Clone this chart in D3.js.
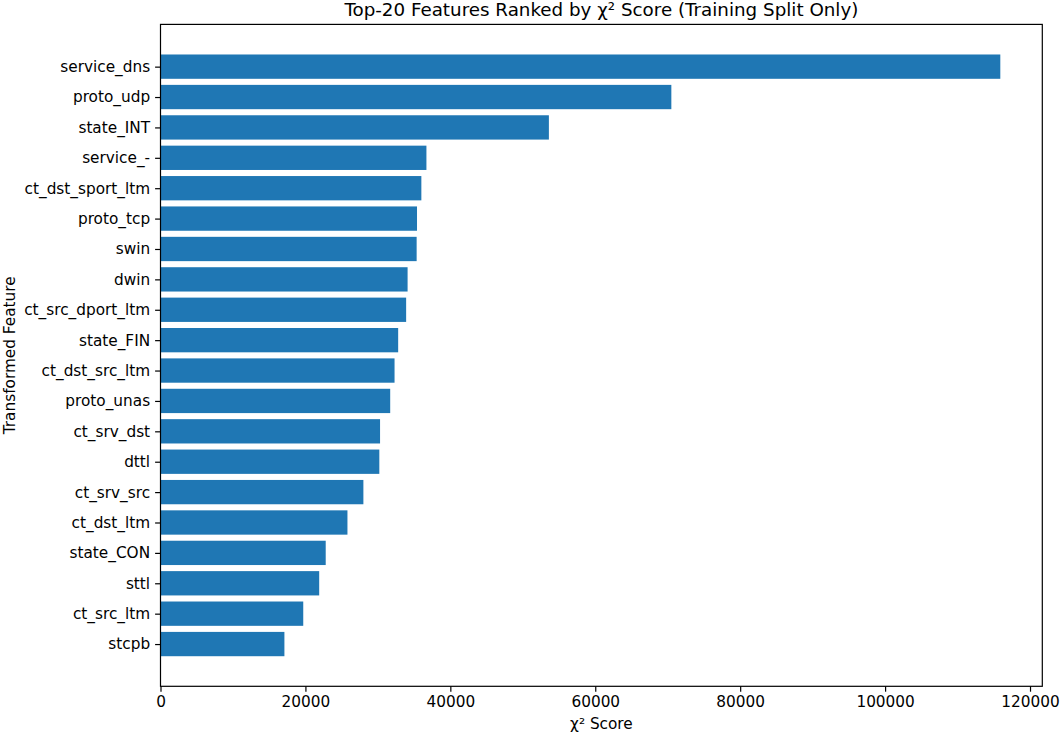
<!DOCTYPE html>
<html>
<head>
<meta charset="utf-8">
<script src="https://cdn.jsdelivr.net/npm/d3@7"></script>
<style>
  body { margin: 0; background: #fff; }
  svg text { font-family: "DejaVu Sans", sans-serif; fill: #000; }
</style>
</head>
<body>
<div id="chart"></div>
<script>
// features, top to bottom
var features = ["service_dns", "proto_udp", "state_INT", "service_-", "ct_dst_sport_ltm",
  "proto_tcp", "swin", "dwin", "ct_src_dport_ltm", "state_FIN", "ct_dst_src_ltm",
  "proto_unas", "ct_srv_dst", "dttl", "ct_srv_src", "ct_dst_ltm", "state_CON",
  "sttl", "ct_src_ltm", "stcpb"];

var scores = [115900, 70500, 53600, 36700, 36000, 35400, 35350, 34100, 33900, 32800,
  32300, 31700, 30300, 30200, 28000, 25800, 22800, 21900, 19700, 17100];

var xTicks = [0, 20000, 40000, 60000, 80000, 100000, 120000];

var title = "Top-20 Features Ranked by χ² Score (Training Split Only)";

// set the dimensions and margins of the graph
var W = 1062, H = 739;
var margin = {top: 24.4, right: 19.7, bottom: 52.7, left: 160.5},
    width = W - margin.left - margin.right,
    height = H - margin.top - margin.bottom;

var svg = d3.select("#chart").append("svg")
    .attr("width", W)
    .attr("height", H);

var g = svg.append("g")
    .attr("transform", "translate(" + margin.left + "," + margin.top + ")");

// matplotlib-like limits: 5% margin
var xmax = d3.max(scores) * 1.05;
var x = d3.scaleLinear().domain([0, xmax]).range([0, width]);

var barH = 0.8;
var ypad = (features.length - 1 + barH) * 0.05;
var y = d3.scaleLinear()
    .domain([-barH / 2 - ypad, features.length - 1 + barH / 2 + ypad])
    .range([0, height]);

// bars
g.selectAll("rect.bar")
    .data(scores)
    .enter().append("rect")
    .attr("class", "bar")
    .attr("x", x(0))
    .attr("y", function(d, i) { return y(i - barH / 2); })
    .attr("width", function(d) { return x(d) - x(0); })
    .attr("height", y(barH) - y(0))
    .attr("fill", "#1f77b4");

// x axis
var xAxis = g.append("g")
    .attr("transform", "translate(0," + height + ")")
    .call(d3.axisBottom(x).tickValues(xTicks).tickFormat(d3.format("d"))
      .tickSizeInner(5.4).tickSizeOuter(0).tickPadding(4));
xAxis.select(".domain").remove();
xAxis.selectAll("text").style("font-size", "15.3px");
xAxis.selectAll("line").attr("stroke", "#000").attr("stroke-width", 1.2);

// y axis
var yAxis = g.append("g")
    .call(d3.axisLeft(y).tickValues(d3.range(features.length))
      .tickFormat(function(i) { return features[i]; })
      .tickSizeInner(5.4).tickSizeOuter(0).tickPadding(5));
yAxis.select(".domain").remove();
yAxis.selectAll("text").style("font-size", "15.3px");
yAxis.selectAll("line").attr("stroke", "#000").attr("stroke-width", 1.2);

// spines
g.append("rect")
    .attr("x", 0).attr("y", 0)
    .attr("width", width).attr("height", height)
    .attr("fill", "none")
    .attr("stroke", "#000")
    .attr("stroke-width", 1.2);

// title and labels
svg.append("text")
    .attr("x", margin.left + width / 2)
    .attr("y", 16)
    .attr("text-anchor", "middle")
    .style("font-size", "18.3px")
    .text(title);

svg.append("text")
    .attr("x", margin.left + width / 2)
    .attr("y", 729)
    .attr("text-anchor", "middle")
    .style("font-size", "15.3px")
    .text("χ² Score");

svg.append("text")
    .attr("transform", "translate(15," + (margin.top + height / 2) + ") rotate(-90)")
    .attr("text-anchor", "middle")
    .style("font-size", "15.3px")
    .text("Transformed Feature");
</script>
</body>
</html>
